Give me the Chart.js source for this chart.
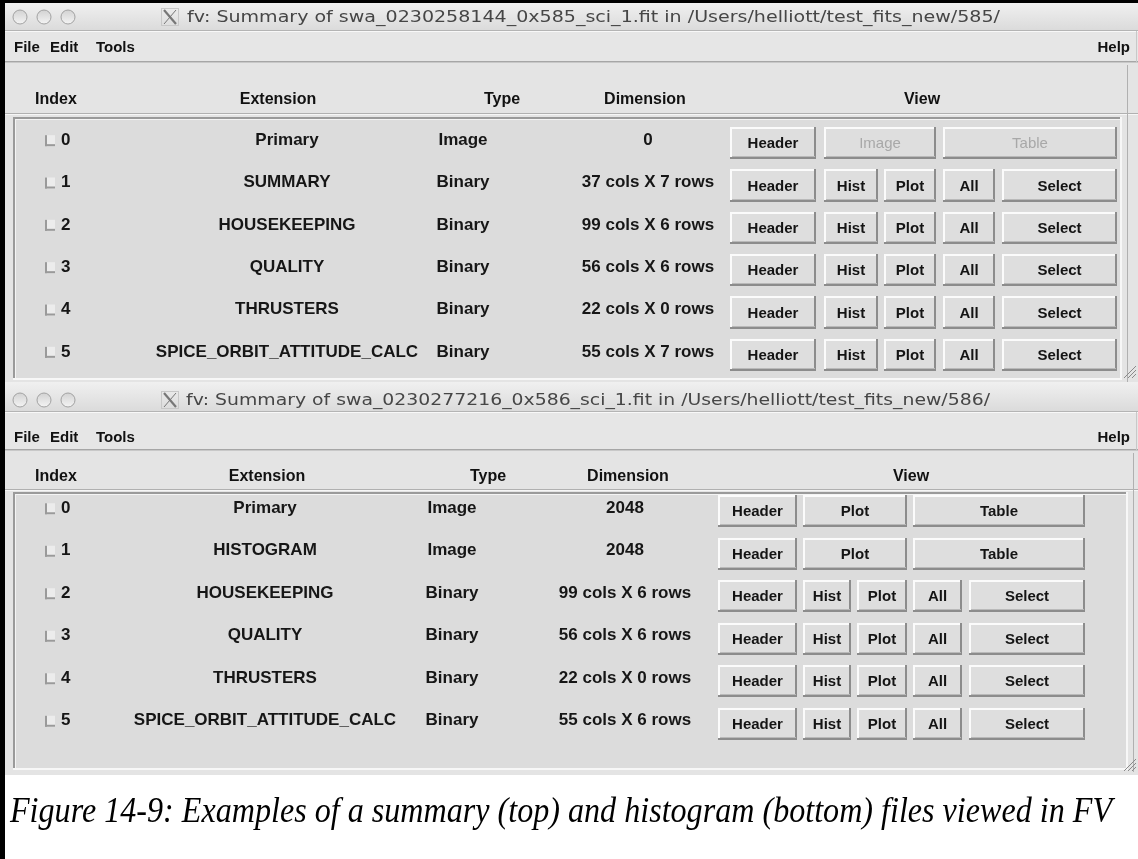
<!DOCTYPE html>
<html>
<head>
<meta charset="utf-8">
<title>fv summary windows</title>
<script src="https://cdn.jsdelivr.net/npm/chart.js@4.4.1/dist/chart.umd.min.js"></script>
<style>
  html, body { margin: 0; padding: 0; background: #fff; }
  body { width: 1138px; height: 859px; position: relative; overflow: hidden; }
  canvas { position: absolute; left: 0; top: 0; }
  #edgeLeft { position: absolute; left: 0; top: 0; width: 5px; height: 859px; background: #000; z-index: 5; }
  #edgeTop { position: absolute; left: 0; top: 0; width: 1138px; height: 3px; background: #000; z-index: 5; }
  #caption {
    position: absolute; left: 10px; top: 792px; z-index: 4;
    font: italic 36px "Liberation Serif", "Times New Roman", serif;
    line-height: 1; white-space: nowrap; color: #000; transform-origin: 0 0;
  }
</style>
</head>
<body>
<canvas id="winTop" width="1138" height="859"></canvas>
<canvas id="winBottom" width="1138" height="859"></canvas>
<div id="edgeLeft"></div>
<div id="edgeTop"></div>
<div id="caption">Figure 14-9: Examples of a summary (top) and histogram (bottom) files viewed in FV</div>
<script>
const TITLE_TOP = 'fv: Summary of swa_0230258144_0x585_sci_1.fit in /Users/helliott/test_fits_new/585/';
const TITLE_BOTTOM = 'fv: Summary of swa_0230277216_0x586_sci_1.fit in /Users/helliott/test_fits_new/586/';
const MENU_ITEMS = ['File', 'Edit', 'Tools'];
const MENU_HELP = 'Help';
const HEADERS = ['Index', 'Extension', 'Type', 'Dimension', 'View'];
const INDICES = ['0', '1', '2', '3', '4', '5'];

const TOP_EXTENSIONS = ['Primary', 'SUMMARY', 'HOUSEKEEPING', 'QUALITY', 'THRUSTERS', 'SPICE_ORBIT_ATTITUDE_CALC'];
const TOP_TYPES = ['Image', 'Binary', 'Binary', 'Binary', 'Binary', 'Binary'];
const TOP_DIMENSIONS = ['0', '37 cols X 7 rows', '99 cols X 6 rows', '56 cols X 6 rows', '22 cols X 0 rows', '55 cols X 7 rows'];

const BOTTOM_EXTENSIONS = ['Primary', 'HISTOGRAM', 'HOUSEKEEPING', 'QUALITY', 'THRUSTERS', 'SPICE_ORBIT_ATTITUDE_CALC'];
const BOTTOM_TYPES = ['Image', 'Image', 'Binary', 'Binary', 'Binary', 'Binary'];
const BOTTOM_DIMENSIONS = ['2048', '2048', '99 cols X 6 rows', '56 cols X 6 rows', '22 cols X 0 rows', '55 cols X 6 rows'];

const EMPTY_IMAGE_BUTTONS = ['Header', 'Image', 'Table'];   // image HDU with no data (greyed)
const IMAGE_BUTTONS = ['Header', 'Plot', 'Table'];
const TABLE_BUTTONS = ['Header', 'Hist', 'Plot', 'All', 'Select'];

// ---- layout (page pixels) ----
const LAYOUT_TOP = {
  top: 3, titleBottom: 31, menuBottom: 63, headerRule: 113, bottom: 382,
  titleY: 17, menuY: 47, headerY: 100,
  panel: { left: 13, top: 117, right: 1122, bottom: 380 },
  rowsTop: 122, rowsBottom: 376,
  headerX: [35, 278, 502, 645, 922],
  checkX: 45, indexX: 61, extX: 287, typeX: 463, dimX: 648,
  slots: [[730, 816], [824, 878], [884, 936], [943, 995], [1002, 1117]],
  titleSpan: [187, 1000]
};
const LAYOUT_BOTTOM = {
  top: 382, titleBottom: 412, menuBottom: 451, headerRule: 489, bottom: 775,
  titleY: 400, menuY: 437, headerY: 477,
  panel: { left: 13, top: 492, right: 1128, bottom: 770 },
  rowsTop: 490, rowsBottom: 745,
  headerX: [35, 267, 488, 628, 911],
  checkX: 45, indexX: 61, extX: 265, typeX: 452, dimX: 625,
  slots: [[718, 797], [803, 851], [857, 907], [913, 962], [969, 1085]],
  titleSpan: [186, 990]
};

const GUI_FONT = '"Liberation Sans", Arial, sans-serif';
const ROW_H_FRACTION = 0.76;
const TEXT_LIFT = 3;

// which slots a button covers: 5 buttons -> one slot each, 3 buttons -> 1, 2, 2
const buttonSpan = (count, k, slots) => {
  if (count === 5) return [slots[k][0], slots[k][1]];
  if (k === 0) return [slots[0][0], slots[0][1]];
  if (k === 1) return [slots[1][0], slots[2][1]];
  if (k === 2) return [slots[3][0], slots[4][1]];
  return null;
};

const bevel = (ctx, l, t, r, b, light, dark, w) => {
  ctx.fillStyle = light;
  ctx.fillRect(l, t, r - l, w);
  ctx.fillRect(l, t, w, b - t);
  ctx.fillStyle = dark;
  ctx.fillRect(l, b - w, r - l, w);
  ctx.fillRect(r - w, t, w, b - t);
};

const fitText = (ctx, text, x, y, width) => {
  const natural = ctx.measureText(text).width;
  ctx.save();
  ctx.translate(x, y);
  ctx.scale(width / natural, 1);
  ctx.fillText(text, 0, 0);
  ctx.restore();
};

const drawGrip = (ctx, x, y) => {
  ctx.strokeStyle = '#8a8a8a';
  ctx.lineWidth = 1;
  for (let i = 0; i < 3; i++) {
    ctx.beginPath();
    ctx.moveTo(x + 4 * i, y + 12);
    ctx.lineTo(x + 12, y + 4 * i);
    ctx.stroke();
  }
};

// window chrome: title bar, menu bar, column headings, sunken panel
const chromePlugin = {
  id: 'fvChrome',
  beforeDatasetsDraw(chart, args, opts) {
    const { ctx } = chart;
    const L = opts.layout;
    const W = 1138;
    ctx.save();
    // window body
    ctx.fillStyle = '#e4e4e4';
    ctx.fillRect(5, L.top, W - 5, L.bottom - L.top);
    // title bar
    const g = ctx.createLinearGradient(0, L.top, 0, L.titleBottom);
    g.addColorStop(0, '#f0f0f0');
    g.addColorStop(1, '#dadada');
    ctx.fillStyle = g;
    ctx.fillRect(5, L.top, W - 5, L.titleBottom - L.top);
    ctx.fillStyle = '#b4b4b4';
    ctx.fillRect(5, L.titleBottom - 1, W - 5, 1);
    // traffic lights (inactive)
    [20, 44, 68].forEach((cx) => {
      const cg = ctx.createLinearGradient(0, L.titleY - 7, 0, L.titleY + 7);
      cg.addColorStop(0, '#d2d2d2');
      cg.addColorStop(1, '#f4f4f4');
      ctx.beginPath();
      ctx.arc(cx, L.titleY, 7, 0, Math.PI * 2);
      ctx.fillStyle = cg;
      ctx.fill();
      ctx.strokeStyle = '#a2a2a2';
      ctx.lineWidth = 1;
      ctx.stroke();
    });
    // X11 icon
    const ix = 162, iy = L.titleY - 8;
    ctx.strokeStyle = '#777';
    ctx.lineWidth = 2.2;
    ctx.beginPath(); ctx.moveTo(ix + 2, iy + 1); ctx.lineTo(ix + 14, iy + 15); ctx.stroke();
    ctx.lineWidth = 1;
    ctx.beginPath(); ctx.moveTo(ix + 14, iy + 1); ctx.lineTo(ix + 2, iy + 15); ctx.stroke();
    ctx.strokeStyle = '#c8c8c8';
    ctx.strokeRect(ix - 0.5, iy - 0.5, 17, 17);
    // title text
    ctx.fillStyle = '#464646';
    ctx.font = '15px "DejaVu Sans", "Noto Sans", sans-serif';
    ctx.textBaseline = 'middle';
    ctx.textAlign = 'left';
    fitText(ctx, opts.title, L.titleSpan[0], L.titleY + 1, L.titleSpan[1] - L.titleSpan[0]);
    // menu bar
    ctx.fillStyle = '#e6e6e6';
    ctx.fillRect(5, L.titleBottom, W - 5, L.menuBottom - L.titleBottom);
    ctx.fillStyle = '#f8f8f8';
    ctx.fillRect(5, L.titleBottom, W - 5, 1);
    ctx.fillStyle = '#a6a6a6';
    ctx.fillRect(5, L.menuBottom - 2, W - 5, 1);
    ctx.fillStyle = '#c8c8c8';
    ctx.fillRect(5, L.menuBottom - 1, W - 5, 1);
    ctx.fillRect(W - 2, L.titleBottom, 1, L.menuBottom - L.titleBottom);
    ctx.fillStyle = '#111';
    ctx.font = 'bold 15px ' + GUI_FONT;
    [14, 50, 96].forEach((x, i) => ctx.fillText(MENU_ITEMS[i], x, L.menuY + 1));
    ctx.textAlign = 'right';
    ctx.fillText(MENU_HELP, 1130, L.menuY + 1);
    // column headings
    ctx.font = 'bold 16px ' + GUI_FONT;
    HEADERS.forEach((h, i) => {
      ctx.textAlign = i === 0 ? 'left' : 'center';
      ctx.fillText(h, L.headerX[i], L.headerY);
    });
    ctx.fillStyle = '#b0b0b0';
    ctx.fillRect(5, L.headerRule, W - 5, 1);
    ctx.fillStyle = '#f6f6f6';
    ctx.fillRect(5, L.headerRule + 1, W - 5, 1);
    // sunken panel
    const P = L.panel;
    ctx.fillStyle = '#dcdcdc';
    ctx.fillRect(P.left, P.top, P.right - P.left, P.bottom - P.top);
    bevel(ctx, P.left, P.top, P.right, P.bottom, '#9a9a9a', '#f7f7f7', 2);
    ctx.fillStyle = '#f4f4f4';
    ctx.fillRect(P.left + 2, P.top + 2, P.right - P.left - 4, 1);
    ctx.fillRect(P.left + 2, P.top + 2, 1, P.bottom - P.top - 4);
    ctx.fillStyle = '#b0b0b0';
    ctx.fillRect(P.right + 5, L.menuBottom + 2, 1, P.bottom - L.menuBottom);
    drawGrip(ctx, W - 14, L.bottom - 16);
    ctx.restore();
  },
  afterDatasetsDraw(chart, args, opts) {
    const { ctx } = chart;
    const L = opts.layout;
    const rows = opts.rows;
    const yScale = chart.scales.y;
    ctx.save();
    ctx.textBaseline = 'middle';
    // buttons: bevel + label on each floating bar
    chart.data.datasets.forEach((ds, k) => {
      const meta = chart.getDatasetMeta(k);
      meta.data.forEach((el, j) => {
        if (!ds.data[j]) return;
        const p = el.getProps(['x', 'base', 'y', 'height'], true);
        const l = Math.round(Math.min(p.x, p.base));
        const r = Math.round(Math.max(p.x, p.base));
        const t = Math.round(p.y - p.height / 2);
        const b = Math.round(p.y + p.height / 2);
        bevel(ctx, l, t, r, b, '#fbfbfb', '#8c8c8c', 2);
        ctx.fillStyle = '#b9b9b9';
        ctx.fillRect(l + 2, b - 3, r - l - 3, 1);
        const label = rows[j].buttons[k];
        const greyed = rows[j].greyed && k > 0;
        ctx.fillStyle = greyed ? '#a8a8a8' : '#141414';
        ctx.font = (greyed ? '' : 'bold ') + '15px ' + GUI_FONT;
        ctx.textAlign = 'center';
        ctx.fillText(label, (l + r) / 2, p.y + 1);
      });
    });
    // row cells
    rows.forEach((row, j) => {
      const y = yScale.getPixelForValue(j) - TEXT_LIFT;
      // checkbox
      ctx.fillStyle = '#ececec';
      ctx.fillRect(L.checkX, y - 5, 10, 11);
      ctx.fillStyle = '#9a9a9a';
      ctx.fillRect(L.checkX, y - 5, 2, 11);
      ctx.fillRect(L.checkX, y + 4, 10, 2);
      ctx.fillStyle = '#161616';
      ctx.font = 'bold 17px ' + GUI_FONT;
      ctx.textAlign = 'left';
      ctx.fillText(INDICES[j], L.indexX, y);
      ctx.textAlign = 'center';
      ctx.fillText(row.ext, L.extX, y);
      ctx.fillText(row.type, L.typeX, y);
      ctx.fillText(row.dim, L.dimX, y);
    });
    ctx.restore();
  }
};

const buildRows = (exts, types, dims, buttons, greyed) =>
  exts.map((ext, j) => ({ ext, type: types[j], dim: dims[j], buttons: buttons[j], greyed: greyed[j] }));

const makeWindow = (canvasId, title, layout, rows) => {
  const datasets = [0, 1, 2, 3, 4].map((k) => ({
    label: 'button ' + k,
    data: rows.map((row) => (k < row.buttons.length ? buttonSpan(row.buttons.length, k, layout.slots) : null)),
    backgroundColor: '#dedede',
    borderWidth: 0,
    barPercentage: 1,
    categoryPercentage: ROW_H_FRACTION,
    grouped: false
  }));
  return new Chart(document.getElementById(canvasId), {
    type: 'bar',
    data: { labels: INDICES, datasets },
    options: {
      indexAxis: 'y',
      responsive: false,
      animation: false,
      events: [],
      layout: { padding: { top: layout.rowsTop, bottom: 859 - layout.rowsBottom, left: 0, right: 0 } },
      scales: {
        x: { type: 'linear', min: 0, max: 1138, display: false },
        y: { type: 'category', display: false }
      },
      plugins: {
        legend: { display: false },
        tooltip: { enabled: false },
        fvChrome: { layout, title, rows }
      }
    },
    plugins: [chromePlugin]
  });
};

const topRows = buildRows(TOP_EXTENSIONS, TOP_TYPES, TOP_DIMENSIONS,
  [EMPTY_IMAGE_BUTTONS, TABLE_BUTTONS, TABLE_BUTTONS, TABLE_BUTTONS, TABLE_BUTTONS, TABLE_BUTTONS],
  [true, false, false, false, false, false]);
const bottomRows = buildRows(BOTTOM_EXTENSIONS, BOTTOM_TYPES, BOTTOM_DIMENSIONS,
  [IMAGE_BUTTONS, IMAGE_BUTTONS, TABLE_BUTTONS, TABLE_BUTTONS, TABLE_BUTTONS, TABLE_BUTTONS],
  [false, false, false, false, false, false]);

makeWindow('winTop', TITLE_TOP, LAYOUT_TOP, topRows);
makeWindow('winBottom', TITLE_BOTTOM, LAYOUT_BOTTOM, bottomRows);

// caption: condensed serif italic stretched to the figure width
const cap = document.getElementById('caption');
const capW = cap.getBoundingClientRect().width;
cap.style.transform = 'scaleX(' + (1102 / capW) + ')';
</script>
</body>
</html>
